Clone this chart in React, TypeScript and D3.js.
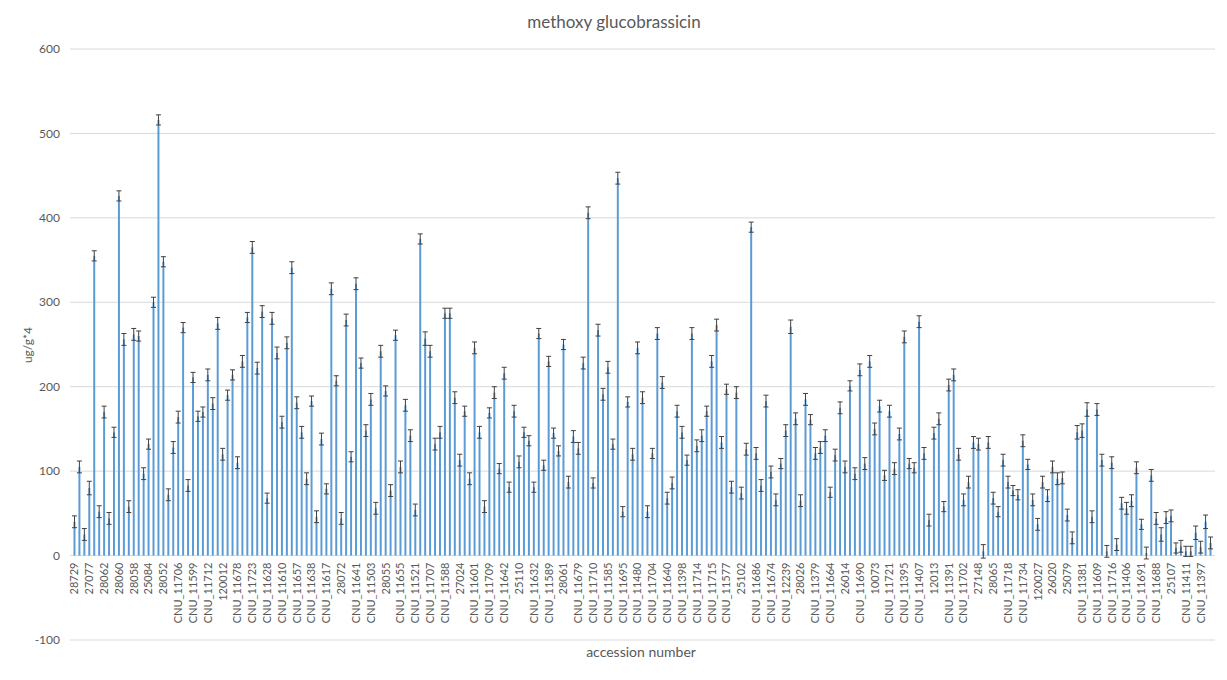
import React, { useEffect, useRef } from 'react';
import * as d3 from 'd3';

// tick labels: Excel shows every third accession
const tickLabels = [
  '28729', '27077', '28062', '28060', '28058', '25084', '28052', 'CNU_11706', 'CNU_11599', 'CNU_11712',
  '120012', 'CNU_11678', 'CNU_11723', 'CNU_11628', 'CNU_11610', 'CNU_11657', 'CNU_11638', 'CNU_11617', '28072', 'CNU_11641',
  'CNU_11503', '28055', 'CNU_11655', 'CNU_11521', 'CNU_11707', 'CNU_11588', '27024', 'CNU_11601', 'CNU_11709', 'CNU_11642',
  '25110', 'CNU_11632', 'CNU_11589', '28061', 'CNU_11679', 'CNU_11710', 'CNU_11585', 'CNU_11695', 'CNU_11480', 'CNU_11704',
  'CNU_11640', 'CNU_11398', 'CNU_11714', 'CNU_11715', 'CNU_11577', '25102', 'CNU_11686', 'CNU_11674', 'CNU_12239', '28026',
  'CNU_11379', 'CNU_11664', '26014', 'CNU_11690', '10073', 'CNU_11721', 'CNU_11395', 'CNU_11407', '12013', 'CNU_11391',
  'CNU_11702', '27148', '28065', 'CNU_11718', 'CNU_11734', '120027', '26020', '25079', 'CNU_11381', 'CNU_11609',
  'CNU_11716', 'CNU_11406', 'CNU_11691', 'CNU_11688', '25107', 'CNU_11411', 'CNU_11397',
];

// mean content per accession (ug/g*4), in chart order
const values = [
  40, 105, 25, 80, 355, 52, 170, 44, 146, 426, 256, 58, 262, 260, 97, 132, 300, 516, 348, 72,
  128, 164, 270, 83, 211, 165, 170, 214, 180, 275, 120, 190, 214, 110, 230, 282, 365, 222, 289, 68,
  281, 240, 158, 252, 341, 181, 146, 91, 183, 46, 138, 79, 316, 207, 44, 279, 117, 322, 228, 148,
  185, 56, 242, 195, 77, 261, 105, 178, 142, 54, 375, 257, 242, 132, 146, 287, 287, 187, 113, 171,
  91, 246, 146, 58, 169, 193, 103, 216, 81, 171, 111, 146, 136, 81, 263, 107, 230, 145, 124, 250,
  87, 141, 127, 228, 406, 86, 267, 191, 223, 132, 447, 52, 182, 120, 246, 187, 52, 121, 263, 205,
  68, 86, 171, 146, 113, 263, 130, 142, 171, 230, 273, 134, 197, 81, 193, 74, 126, 389, 121, 83,
  183, 99, 66, 109, 148, 271, 162, 65, 185, 161, 121, 128, 142, 75, 119, 175, 105, 201, 97, 220,
  109, 230, 150, 177, 95, 171, 103, 144, 259, 109, 104, 277, 121, 42, 145, 162, 58, 202, 214, 120,
  66, 87, 134, 132, 5, 134, 68, 52, 113, 87, 77, 72, 136, 108, 66, 37, 87, 71, 105, 91,
  92, 48, 21, 146, 148, 173, 46, 173, 113, 5, 110, 13, 62, 56, 65, 104, 37, 3, 95, 44,
  25, 45, 47, 9, 11, 5, 5, 27, 10, 40, 15,
];

// standard error (half length of the error bar)
const errors = [
  7, 7, 7, 8, 6, 7, 7, 7, 6, 6, 7, 7, 7, 6, 7, 6, 6, 6, 6, 7,
  7, 7, 6, 7, 6, 6, 6, 7, 7, 7, 7, 6, 6, 7, 7, 6, 7, 7, 7, 6,
  7, 7, 7, 7, 7, 7, 7, 7, 6, 7, 7, 6, 7, 6, 7, 7, 6, 7, 6, 7,
  7, 7, 7, 6, 7, 6, 7, 7, 7, 7, 6, 8, 7, 7, 7, 6, 6, 7, 7, 6,
  7, 7, 7, 7, 6, 7, 6, 7, 6, 7, 7, 6, 6, 6, 6, 6, 6, 6, 6, 6,
  7, 7, 7, 7, 7, 6, 7, 7, 7, 6, 7, 6, 6, 7, 7, 7, 7, 6, 7, 7,
  7, 7, 7, 7, 6, 7, 7, 7, 6, 7, 7, 7, 6, 7, 7, 7, 7, 6, 7, 7,
  7, 7, 7, 6, 7, 8, 7, 7, 7, 6, 7, 7, 7, 6, 7, 7, 7, 6, 7, 7,
  7, 7, 7, 7, 6, 7, 7, 7, 7, 6, 6, 7, 7, 7, 7, 7, 6, 7, 7, 7,
  7, 7, 7, 7, 8, 7, 7, 6, 7, 7, 6, 6, 7, 6, 7, 7, 7, 7, 7, 7,
  7, 7, 7, 8, 8, 8, 7, 7, 7, 7, 7, 7, 7, 7, 7, 7, 6, 7, 7, 7,
  8, 7, 7, 6, 7, 6, 6, 8, 7, 8, 7,
];

const yTicks = [-100, 0, 100, 200, 300, 400, 500, 600];

export default function App() {
  const svgRef = useRef<SVGSVGElement>(null);
  const W = 1227, H = 680;

  useEffect(() => {
    const svg = d3.select(svgRef.current);
    svg.selectAll('*').remove();
    const font = "Lato, Calibri, 'Liberation Sans', sans-serif";
    const textCol = '#595959';

    const x = d3.scaleBand<number>().domain(d3.range(values.length)).range([72, 1213])
      .paddingInner(0.6).paddingOuter(0.3);
    const y = d3.scaleLinear().domain([-100, 600]).range([640, 49]);

    // Gridlines + y labels
    const grid = svg.append('g');
    yTicks.forEach(t => {
      grid.append('line').attr('x1', 70).attr('x2', 1215).attr('y1', y(t)).attr('y2', y(t))
        .attr('stroke', '#d9d9d9').attr('stroke-width', 1);
      grid.append('text').attr('x', 60).attr('y', y(t)).attr('dy', '0.35em').attr('text-anchor', 'end')
        .attr('fill', textCol).attr('font-size', 12).attr('font-family', font).text(t);
    });

    // Bars
    svg.append('g').selectAll('rect').data(values).join('rect')
      .attr('x', (_, i) => x(i)!).attr('width', x.bandwidth())
      .attr('y', d => y(d)).attr('height', d => y(0) - y(d))
      .attr('fill', '#5b9bd5');

    // Error bars
    const eb = svg.append('g').attr('stroke', '#404040').attr('stroke-width', 1).attr('fill', 'none');
    values.forEach((v, i) => {
      const cx = x(i)! + x.bandwidth() / 2;
      const top = y(v + errors[i]), bot = y(v - errors[i]);
      eb.append('line').attr('x1', cx).attr('x2', cx).attr('y1', top).attr('y2', bot);
      eb.append('line').attr('x1', cx - 2.5).attr('x2', cx + 2.5).attr('y1', top).attr('y2', top);
      eb.append('line').attr('x1', cx - 2.5).attr('x2', cx + 2.5).attr('y1', bot).attr('y2', bot);
    });

    // Category labels (every third)
    const xl = svg.append('g');
    tickLabels.forEach((lab, k) => {
      const i = k * 3;
      const cx = x(i)! + x.bandwidth() / 2;
      xl.append('text').attr('transform', `translate(${cx},${y(0) + 7}) rotate(-90)`)
        .attr('text-anchor', 'end').attr('dy', '0.35em')
        .attr('fill', textCol).attr('font-size', 11).attr('font-family', font).text(lab);
    });

    // Titles
    svg.append('text').attr('x', 614).attr('y', 28).attr('text-anchor', 'middle')
      .attr('fill', textCol).attr('font-size', 17).attr('font-family', font).text('methoxy glucobrassicin');
    svg.append('text').attr('x', 641).attr('y', 657).attr('text-anchor', 'middle')
      .attr('fill', textCol).attr('font-size', 14).attr('font-family', font).text('accession number');
    svg.append('text').attr('transform', 'translate(32,345) rotate(-90)').attr('text-anchor', 'middle')
      .attr('fill', textCol).attr('font-size', 12).attr('font-family', font).text('ug/g*4');
  }, []);

  return (
    <svg ref={svgRef} width={W} height={H} viewBox={`0 0 ${W} ${H}`}
      style={{ position: 'absolute', left: 0, top: 0, background: '#fff' }} />
  );
}
